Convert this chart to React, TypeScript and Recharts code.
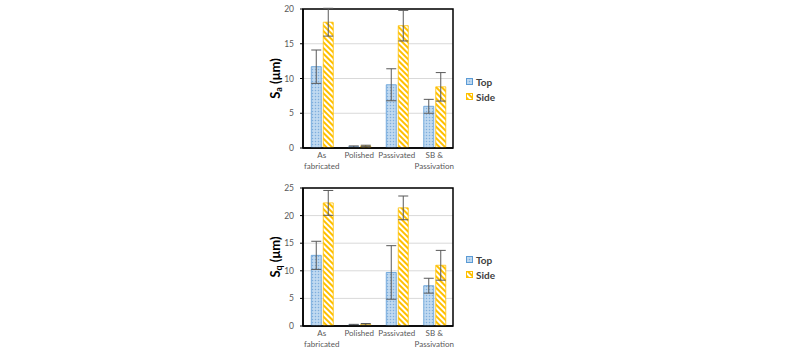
import { BarChart, Bar, XAxis, YAxis, CartesianGrid, ErrorBar, ReferenceArea } from 'recharts';

const categories = ['As fabricated', 'Polished', 'Passivated', 'SB & Passivation'];
const seriesNames = ['Top', 'Side'];

// Sa panel
const saTop = [11.7, 0.2, 9.1, 6.0];
const saTopErr = [2.4, 0.1, 2.3, 1.0];
const saSide = [18.1, 0.3, 17.6, 8.8];
const saSideErr = [2.0, 0.1, 2.2, 2.05];
const saTicks = [0, 5, 10, 15, 20];

// Sq panel
const sqTop = [12.8, 0.2, 9.7, 7.3];
const sqTopErr = [2.55, 0.1, 4.85, 1.35];
const sqSide = [22.3, 0.3, 21.4, 11.0];
const sqSideErr = [2.25, 0.15, 2.15, 2.7];
const sqTicks = [0, 5, 10, 15, 20, 25];

const FONT = 'Lato, "Open Sans", sans-serif';
const TXT = '#595959';

const build = (top: number[], topErr: number[], side: number[], sideErr: number[]) =>
  categories.map((name, i) => ({ name, top: top[i], topErr: topErr[i], side: side[i], sideErr: sideErr[i] }));

// long labels: last word goes on the second line
const CatTick = (props: any) => {
  const { x, y, payload } = props;
  const words = String(payload.value).split(' ');
  const lines = payload.value.length > 10 ? [words.slice(0, -1).join(' '), words[words.length - 1]] : [payload.value];
  return (
    <text x={x} y={y} textAnchor="middle" fontSize={8} fill={TXT} fontFamily={FONT}>
      {lines.map((l: string, i: number) => (
        <tspan key={i} x={x} dy={i === 0 ? 7 : 11}>{l}</tspan>
      ))}
    </text>
  );
};

const AxisLabel = ({ viewBox, sub }: any) => {
  const cx = viewBox.x + 35;
  const cy = viewBox.y + viewBox.height / 2;
  return (
    <text x={cx} y={cy} transform={`rotate(-90, ${cx}, ${cy})`} textAnchor="middle" dominantBaseline="central"
      fontFamily={FONT} fontWeight="bold" fontSize={13} fill="#000">
      <tspan>S</tspan>
      <tspan fontSize={9} dy={3}>{sub}</tspan>
      <tspan dy={-3}> (μm)</tspan>
    </text>
  );
};

const LegendBox = ({ pid }: { pid: string }) => (
  <div style={{ position: 'absolute', left: 226, top: 74, fontFamily: FONT, fontWeight: 'bold', fontSize: 10, color: '#404040' }}>
    {seriesNames.map((n, i) => (
      <div key={n} style={{ display: 'flex', alignItems: 'center', height: 15 }}>
        <svg width={8} height={8} style={{ marginRight: 2 }}>
          <rect x={0.5} y={0.5} width={6} height={6}
            fill={`url(#${pid}-${i === 0 ? 'blue' : 'yel'})`}
            stroke={i === 0 ? '#5B9BD5' : '#FFC000'} strokeWidth={1} />
        </svg>
        {n}
      </div>
    ))}
  </div>
);

function Panel({ data, yMax, ticks, sub, pid, marginTop }: any) {
  return (
    <div style={{ position: 'relative', width: 290, height: 178 }}>
      <BarChart width={290} height={178} data={data} barCategoryGap="22%" barGap={2}
        margin={{ top: marginTop, right: 77, bottom: 0, left: 0 }}>
        <defs>
          <pattern id={`${pid}-blue`} width={3} height={3} patternUnits="userSpaceOnUse">
            <rect width={3} height={3} fill="#B4D2EE" />
            <rect x={0} y={0} width={1} height={1} fill="#7FAEDC" />
            <rect x={1.5} y={1.5} width={1} height={1} fill="#E4EEF8" />
          </pattern>
          <pattern id={`${pid}-yel`} width={4} height={4} patternUnits="userSpaceOnUse" patternTransform="rotate(-45)">
            <rect width={4} height={4} fill="#fff" />
            <rect width={2} height={4} fill="#FFC000" />
          </pattern>
        </defs>
        <CartesianGrid vertical={false} stroke="#D9D9D9" />
        <XAxis dataKey="name" tick={<CatTick />} tickLine={false} tickSize={0} tickMargin={3} height={30}
          interval={0} axisLine={{ stroke: '#000', strokeWidth: 1.5 }} />
        <YAxis domain={[0, yMax]} ticks={ticks} allowDataOverflow width={63} tickSize={3} tickMargin={6}
          tick={{ fontSize: 8.5, fill: TXT, fontFamily: FONT }} tickLine={{ stroke: '#000' }}
          axisLine={{ stroke: '#000', strokeWidth: 1.5 }}
          label={<AxisLabel sub={sub} />} />
        <Bar dataKey="top" name={seriesNames[0]} fill={`url(#${pid}-blue)`} stroke="#5B9BD5" strokeWidth={0.8}
          isAnimationActive={false}>
          <ErrorBar dataKey="topErr" width={5} stroke="#595959" strokeWidth={1} direction="y" />
        </Bar>
        <Bar dataKey="side" name={seriesNames[1]} fill={`url(#${pid}-yel)`} stroke="#FFC000" strokeWidth={0.8}
          isAnimationActive={false}>
          <ErrorBar dataKey="sideErr" width={5} stroke="#595959" strokeWidth={1} direction="y" />
        </Bar>
        <ReferenceArea y1={0} y2={yMax} fill="none" stroke="#000" strokeWidth={1.5} ifOverflow="visible" />
      </BarChart>
      <LegendBox pid={pid} />
    </div>
  );
}

export default function App() {
  const saData = build(saTop, saTopErr, saSide, saSideErr);
  const sqData = build(sqTop, sqTopErr, sqSide, sqSideErr);
  return (
    <div style={{ position: 'absolute', left: 0, top: 0, width: 800, height: 356, background: '#fff' }}>
      <div style={{ position: 'absolute', left: 240, top: 0 }}>
        <Panel data={saData} yMax={20} ticks={saTicks} sub="a" pid="sa" marginTop={9} />
      </div>
      <div style={{ position: 'absolute', left: 240, top: 178 }}>
        <Panel data={sqData} yMax={25} ticks={sqTicks} sub="q" pid="sq" marginTop={10} />
      </div>
    </div>
  );
}
